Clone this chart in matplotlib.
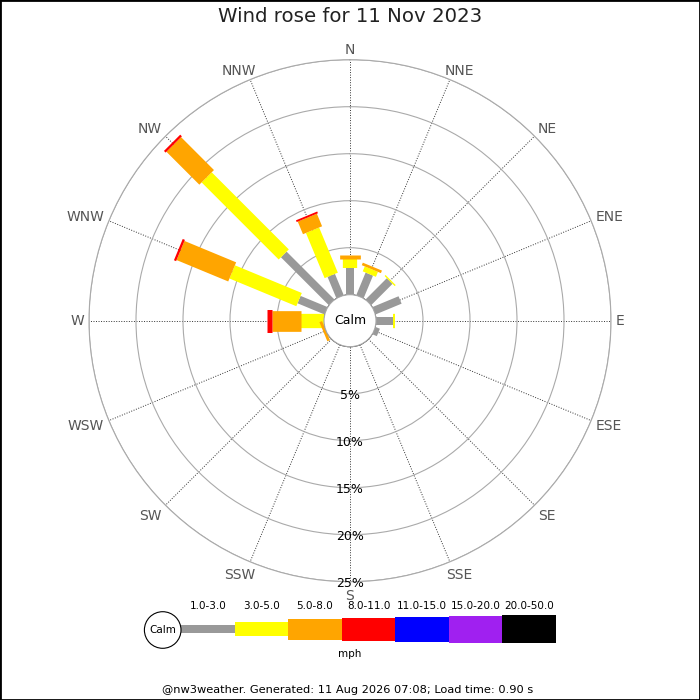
import numpy as np
import matplotlib
matplotlib.use("Agg")
import matplotlib.pyplot as plt
from matplotlib.patches import Circle, Rectangle

# 16 compass points, clockwise from north
directions = ["N", "NNE", "NE", "ENE", "E", "ESE", "SE", "SSE",
              "S", "SSW", "SW", "WSW", "W", "WNW", "NW", "NNW"]
speed_bins = ["1.0-3.0", "3.0-5.0", "5.0-8.0", "8.0-11.0",
              "11.0-15.0", "15.0-20.0", "20.0-50.0"]
bin_colours = ["#999999", "#ffff00", "#ffa500", "#ff0000",
               "#0000ff", "#a020f0", "#000000"]

# % of the day in each speed bin, per direction
pct_1_3 = [2.87, 2.6, 3.2, 3.0, 1.8, 0.5, 0, 0, 0, 0, 0, 0, 0, 3.1, 7.2, 2.45]
pct_3_5 = [0.93, 0.57, 0.15, 0, 0.18, 0, 0, 0, 0, 0, 0, 0, 2.4, 7.7, 11.6, 5.2]
pct_5_8 = [0.39, 0.29, 0, 0, 0, 0, 0, 0, 0, 0, 0, 0.3, 3.1, 5.95, 4.95, 1.45]
pct_8_11 = [0, 0, 0, 0, 0, 0, 0, 0, 0, 0, 0, 0, 0.6, 0.25, 0.25, 0.2]
pct_11_15 = [0] * 16
pct_15_20 = [0] * 16
pct_20_50 = [0] * 16

ring_pcts = [5, 10, 15, 20, 25]

# bar thickness per bin, in pixels
bar_px = [8, 14.3, 20.7, 23, 25, 26.7, 28.3]


def main():
    fig = plt.figure(figsize=(7, 7), dpi=100)
    px = 1.0 / 700

    # rose: centre (350, 320.7) px, outer ring radius 261 px, calm radius 26 px
    R = 261
    calm_r = 26
    rmax = 25
    origin = calm_r * rmax / (R - calm_r)
    ax = fig.add_axes([(350 - R) * px, (700 - 320.7 - R) * px, 2 * R * px, 2 * R * px],
                      projection="polar")
    ax.set_theta_zero_location("N")
    ax.set_theta_direction(-1)
    ax.set_ylim(0, rmax)
    ax.set_rorigin(-origin)

    angles = np.deg2rad(np.arange(16) * 22.5)
    ax.set_xticks(angles)
    ax.set_xticklabels([])
    ax.set_yticks(ring_pcts)
    ax.set_yticklabels([])
    ax.xaxis.grid(True, color="#333333", linestyle=(0, (1, 1.6)), linewidth=0.7)
    ax.yaxis.grid(True, color="#aaaaaa", linestyle="-", linewidth=0.8)
    ax.spines["polar"].set_color("#aaaaaa")
    ax.spines["polar"].set_linewidth(0.8)
    for s in ("inner", "start", "end"):
        if s in ax.spines:
            ax.spines[s].set_visible(False)

    series = [pct_1_3, pct_3_5, pct_5_8, pct_8_11, pct_11_15, pct_15_20, pct_20_50]
    base = np.zeros(16)
    for vals, col, w in zip(series, bin_colours, bar_px):
        vals = np.array(vals, dtype=float)
        for i in range(16):
            if vals[i] > 0:
                ax.plot([angles[i], angles[i]], [base[i], base[i] + vals[i]],
                        color=col, linewidth=w * 0.72, solid_capstyle="butt",
                        zorder=3)
        base += vals

    # compass labels sit just outside the end of each spoke
    labels = []
    for ang, name in zip(angles, directions):
        t = ax.annotate(name, xy=(ang, rmax), xytext=(0, 0),
                        textcoords="offset pixels", ha="center", va="center",
                        fontsize=10, color="#555555", annotation_clip=False)
        labels.append(t)
    renderer = fig.canvas.get_renderer()
    for ang, t in zip(angles, labels):
        w = t.get_window_extent(renderer).width
        s, c = np.sin(ang), np.cos(ang)
        dx = np.sign(s) * (w / 2) * min(1.0, 1.4 * abs(s)) + 5 * s
        dy = 9.5 * c if c > 0 else 14.5 * c
        t.xyann = (dx, dy)

    for p in ring_pcts:
        ax.text(np.pi, p + 0.2, "%d%%" % p, ha="center", va="center",
                fontsize=9, color="black", zorder=4)

    ax.add_patch(Circle((0.5, 0.5), calm_r / (2 * R), transform=ax.transAxes,
                        facecolor="white", edgecolor="#aaaaaa", linewidth=0.8,
                        zorder=5, clip_on=False))
    ax.text(0.5, 0.5, "Calm", transform=ax.transAxes, ha="center",
            va="center", fontsize=9, zorder=6)

    # legend strip, in pixel units
    lg = fig.add_axes([140 * px, (700 - 665) * px, 420 * px, 65 * px])
    lg.set_xlim(140, 560)
    lg.set_ylim(665, 600)
    lg.axis("off")
    seg = 375 / 7.0
    yc = 629.2
    for i, (lab, col, w) in enumerate(zip(speed_bins, bin_colours, bar_px)):
        x0 = 181 + i * seg
        lg.bar(x0, w, width=seg, bottom=yc - w / 2, align="edge", color=col,
               linewidth=0)
        lg.text(x0 + seg / 2, 606, lab, ha="center", va="center", fontsize=7.5)
    lg.add_patch(Circle((162.7, 630), 18.3, facecolor="white", edgecolor="black",
                        linewidth=0.8, clip_on=False))
    lg.text(162.7, 630, "Calm", ha="center", va="center", fontsize=7.5)
    lg.text(350, 654, "mph", ha="center", va="center", fontsize=7.5)

    fig.text(0.5, 1 - 17 * px, "Wind rose for 11 Nov 2023", ha="center",
             va="center", fontsize=14.2, color="#222222")
    fig.text(0.497, 1 - 690 * px,
             "@nw3weather. Generated: 11 Aug 2026 07:08; Load time: 0.90 s",
             ha="center", va="center", fontsize=8.2)

    fig.patches.append(Rectangle((0, 0), 1, 1, transform=fig.transFigure,
                                 fill=False, edgecolor="black", linewidth=2))

    fig.savefig("out.png", dpi=100)


if __name__ == "__main__":
    main()
